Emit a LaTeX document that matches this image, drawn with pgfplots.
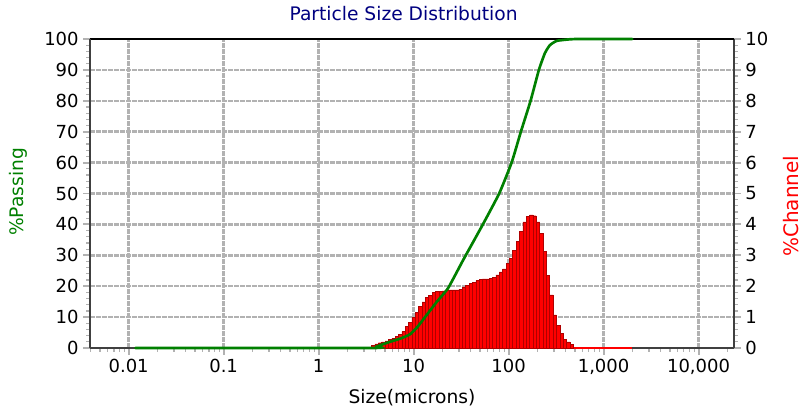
\documentclass[border=0pt]{standalone}
\usepackage{pgfplots}
\pgfplotsset{compat=1.18}
\usepackage{pgfplotstable}
\usepackage{fontspec}
\setmainfont{DejaVu Sans}

\definecolor{gridgray}{RGB}{178,178,178}
\definecolor{axgray}{RGB}{64,64,64}
\definecolor{ttl}{RGB}{0,0,128}
\definecolor{pgreen}{RGB}{0,128,0}
\definecolor{cred}{RGB}{255,0,0}
\definecolor{cdark}{RGB}{175,0,0}

\pgfplotstableread{
x y
3.6133 0.09
3.9199 0.13
4.2525 0.17
4.6133 0.20
5.0047 0.23
5.4294 0.28
5.8901 0.32
6.3899 0.37
6.9321 0.44
7.5203 0.53
8.1584 0.69
8.8507 0.82
9.6017 0.98
10.4164 1.16
11.3002 1.34
12.2590 1.49
13.2992 1.63
14.4276 1.70
15.6518 1.79
16.9799 1.83
18.4207 1.84
19.9837 1.85
21.6793 1.86
23.5188 1.88
25.5144 1.88
27.6793 1.88
30.0279 1.90
32.5758 1.98
35.3399 2.03
38.3385 2.08
41.5915 2.12
45.1206 2.18
48.9491 2.23
53.1025 2.24
57.6083 2.24
62.4964 2.26
67.7993 2.29
73.5521 2.37
79.7930 2.46
86.5635 2.56
93.9085 2.73
101.8767 2.90
110.5210 3.15
119.8988 3.45
130.0723 3.77
141.1091 4.08
153.0824 4.26
166.0716 4.31
180.1629 4.28
195.4499 4.08
212.0340 3.72
230.0253 3.13
249.5432 2.34
270.7172 1.72
293.6878 1.07
318.6076 0.74
345.6418 0.47
374.9699 0.28
406.7865 0.20
441.3028 0.12
478.7478 0
}\bars

\pgfplotstableread{
x y
0.0118 0
3.61 0
4.11 0.5
5.62 2.0
7.18 3.0
9.14 4.4
11.1 7.0
13.2 10
17.6 15
23.1 19.4
33.3 28.5
53.6 40
79.6 50
107.6 60
134.7 70
170.4 80
208.4 90
241 95.4
272 98
322 99.4
442 99.9
562 100
2000 100
}\passing

\begin{document}
\begin{tikzpicture}
\path[use as bounding box] (0,0) rectangle (603pt,309.75pt);
\begin{axis}[
  scale only axis, width=483pt, height=231.75pt,
  at={(67.5pt,48.75pt)}, anchor=south west,
  xmode=log, log basis x=10, xmin=0.00392, xmax=23600,
  clip=false,
  tick align=outside,
  major tick length=5pt, minor tick length=3pt,
  every major tick/.append style={gridgray, line width=1.4pt},
  every minor tick/.append style={gridgray, line width=0.9pt},
  tick label style={font=\fontsize{13.5}{16}\selectfont},
  /pgf/number format/assume math mode=true,
  axis y line*=right, axis x line*=bottom,
  ymin=0, ymax=10, ytick={0,1,...,10}, minor y tick num=4,
  xtick={0.01,0.1,1,10,100,1000,10000},
  xticklabels={0.01,0.1,1,10,100,{1,000},{10,000}},
  minor xtick={0.004,0.005,0.006,0.007,0.008,0.009,
    0.02,0.03,0.04,0.05,0.06,0.07,0.08,0.09,
    0.2,0.3,0.4,0.5,0.6,0.7,0.8,0.9,
    2,3,4,5,6,7,8,9,
    20,30,40,50,60,70,80,90,
    200,300,400,500,600,700,800,900,
    2000,3000,4000,5000,6000,7000,8000,9000,20000},
  grid=major,
  major grid style={gridgray, line width=1.9pt, dash pattern=on 4pt off 0.5pt},
  axis line style={axgray, line width=2pt},
  xlabel={Size(microns)},
  xlabel style={at={(axis description cs:0.5,-0.162)}, anchor=center, font=\fontsize{14}{16}\selectfont},
  ylabel={\%Channel},
  ylabel style={at={(axis description cs:1.0885,0.459)}, anchor=center, text=cred, font=\fontsize{15}{17}\selectfont},
]
\addplot[cred, line width=1.6pt] coordinates {(0.0118,0) (2000,0)};
\addplot[ybar interval, fill=cred, draw=cdark, line width=0.35pt] table[x=x,y=y] {\bars};
\node[text=ttl, font=\fontsize{14}{16}\selectfont, anchor=center] at (rel axis cs:0.487,1.081) {Particle Size Distribution};
\end{axis}
\begin{axis}[
  scale only axis, width=483pt, height=231.75pt,
  at={(67.5pt,48.75pt)}, anchor=south west,
  xmode=log, log basis x=10, xmin=0.00392, xmax=23600,
  clip=false,
  tick align=outside,
  major tick length=5pt, minor tick length=3pt,
  every major tick/.append style={gridgray, line width=1.4pt},
  every minor tick/.append style={gridgray, line width=0.9pt},
  tick label style={font=\fontsize{13.5}{16}\selectfont},
  /pgf/number format/assume math mode=true,
  axis y line*=left, axis x line*=top,
  ymin=0, ymax=100, ytick={0,10,...,100}, minor y tick num=4,
  xtick=\empty, minor xtick={},
  y axis line style={axgray, line width=2pt},
  x axis line style={black, line width=1pt},
  ylabel={\%Passing},
  ylabel style={at={(axis description cs:-0.1118,0.505)}, anchor=center, text=pgreen, font=\fontsize{14}{16}\selectfont},
]
\addplot[pgreen, line width=2pt, smooth, tension=0.3, line cap=round] table[x=x,y=y] {\passing};
\end{axis}
\end{tikzpicture}
\end{document}
